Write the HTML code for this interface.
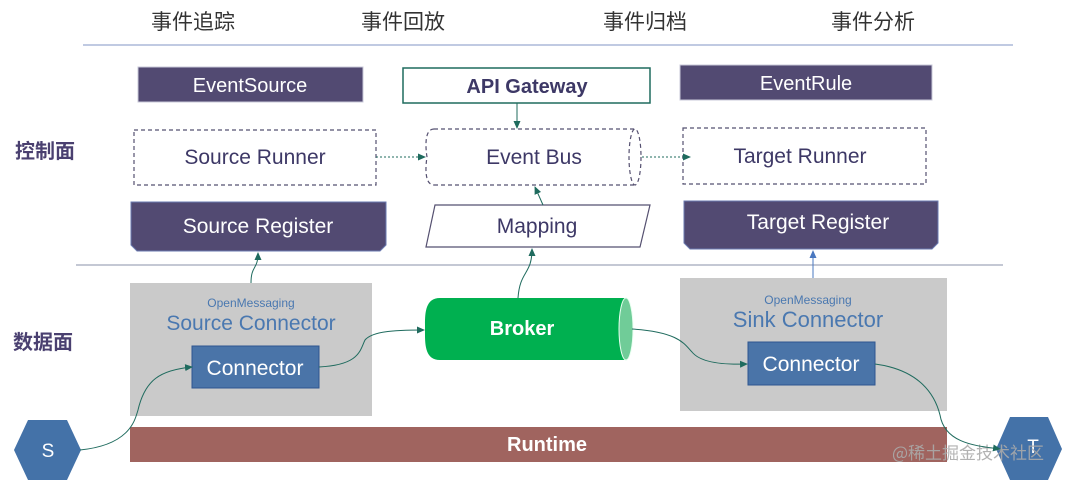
<!DOCTYPE html>
<html><head><meta charset="utf-8"><style>
html,body{margin:0;padding:0;background:#fff;}
svg{display:block;font-family:"Liberation Sans","Noto Sans CJK SC",sans-serif;}
</style></head><body>
<svg width="1080" height="480" viewBox="0 0 1080 480" xmlns="http://www.w3.org/2000/svg">
<defs>
<marker id="a" markerWidth="8" markerHeight="8" refX="7" refY="4" orient="auto" markerUnits="userSpaceOnUse"><path d="M0,0.5 L8,4 L0,7.5z" fill="#1f6b5e"/></marker>
<marker id="b" markerWidth="8" markerHeight="8" refX="7" refY="4" orient="auto" markerUnits="userSpaceOnUse"><path d="M0,0.5 L8,4 L0,7.5z" fill="#4a78c0"/></marker>
</defs>
<g font-size="21" fill="#333" text-anchor="middle" font-family="'Noto Sans CJK SC',sans-serif">
<text x="193" y="29">事件追踪</text><text x="403" y="29">事件回放</text><text x="645" y="29">事件归档</text><text x="873" y="29">事件分析</text>
</g>
<line x1="83" y1="45" x2="1013" y2="45" stroke="#9aaad0" stroke-width="1.2"/>
<line x1="76" y1="265" x2="1003" y2="265" stroke="#8a90a8" stroke-width="1"/>
<g font-size="20" font-weight="bold" fill="#4a4070" font-family="'Noto Sans CJK SC',sans-serif">
<text x="15" y="158">控制面</text><text x="13" y="349">数据面</text>
</g>
<rect x="138" y="67" width="225" height="35" fill="#524a72" stroke="#c8c8d8"/>
<text x="250" y="92" font-size="20" fill="#fff" text-anchor="middle">EventSource</text>
<rect x="403" y="68" width="247" height="35" fill="#fff" stroke="#1f6b5e" stroke-width="1.5"/>
<text x="527" y="93" font-size="20" font-weight="bold" fill="#3d3866" text-anchor="middle">API Gateway</text>
<rect x="680" y="65" width="252" height="35" fill="#524a72" stroke="#c8c8d8"/>
<text x="806" y="90" font-size="20" fill="#fff" text-anchor="middle">EventRule</text>
<rect x="134" y="130" width="242" height="55" fill="none" stroke="#555070" stroke-width="1.2" stroke-dasharray="4,3"/>
<text x="255" y="164" font-size="21" fill="#3d3866" text-anchor="middle">Source Runner</text>
<path d="M434,129 H635 M434,185 H635 M434,129 C422,129 427,157 427,157 C427,157 422,185 434,185" fill="none" stroke="#555070" stroke-width="1.2" stroke-dasharray="4,3"/>
<ellipse cx="635" cy="157" rx="6" ry="28" fill="none" stroke="#555070" stroke-width="1.2" stroke-dasharray="4,3"/>
<text x="534" y="164" font-size="21" fill="#3d3866" text-anchor="middle">Event Bus</text>
<rect x="683" y="128" width="243" height="56" fill="none" stroke="#555070" stroke-width="1.2" stroke-dasharray="4,3"/>
<text x="800" y="163" font-size="21" fill="#3d3866" text-anchor="middle">Target Runner</text>
<path d="M131,202 H386 V245 L380,251 H137 L131,245 Z" fill="#524a72" stroke="#6a7ab0"/>
<text x="258" y="233" font-size="21" fill="#fff" text-anchor="middle">Source Register</text>
<path d="M435,205 H650 L640,247 H426 Z" fill="#fff" stroke="#555070" stroke-width="1.2"/>
<text x="537" y="233" font-size="21" fill="#3d3866" text-anchor="middle">Mapping</text>
<path d="M684,201 H938 V243 L932,249 H690 L684,243 Z" fill="#524a72" stroke="#6a7ab0"/>
<text x="818" y="229" font-size="21" fill="#fff" text-anchor="middle">Target Register</text>
<rect x="130" y="283" width="242" height="133" fill="#cacaca"/>
<text x="251" y="307" font-size="12" fill="#4a78b0" text-anchor="middle">OpenMessaging</text>
<text x="251" y="330" font-size="21" fill="#4a78b0" text-anchor="middle">Source Connector</text>
<rect x="192" y="346" width="127" height="42" fill="#4a74a8" stroke="#2f5590"/>
<text x="255" y="375" font-size="21" fill="#fff" text-anchor="middle">Connector</text>
<rect x="680" y="278" width="267" height="133" fill="#cacaca"/>
<text x="808" y="304" font-size="12" fill="#4a78b0" text-anchor="middle">OpenMessaging</text>
<text x="808" y="327" font-size="22" fill="#4a78b0" text-anchor="middle">Sink  Connector</text>
<rect x="748" y="342" width="127" height="43" fill="#4a74a8" stroke="#2f5590"/>
<text x="811" y="371" font-size="21" fill="#fff" text-anchor="middle">Connector</text>
<path d="M440,298 H626 V360 H440 C424,360 425,342 425,329 C425,316 424,298 440,298 Z" fill="#00b050"/>
<ellipse cx="626" cy="329" rx="7" ry="31" fill="#70cc98" stroke="#e8fff0" stroke-width="1"/>
<text x="522" y="335" font-size="20" font-weight="bold" fill="#fff" text-anchor="middle">Broker</text>
<rect x="130" y="427" width="817" height="35" fill="#a0645f"/>
<text x="547" y="451" font-size="20" font-weight="bold" fill="#fff" text-anchor="middle">Runtime</text>
<polygon points="28,420 67,420 81,450 67,480 28,480 14,450" fill="#4472a8"/>
<text x="48" y="457" font-size="19" fill="#fff" text-anchor="middle">S</text>
<polygon points="1010,417 1048,417 1062,449 1048,480 1010,480 996,449" fill="#4472a8"/>
<text x="1033" y="453" font-size="19" fill="#fff" text-anchor="middle">T</text>
<text x="968" y="459" font-size="17" fill="#aaa" fill-opacity="0.9" text-anchor="middle" font-family="'Noto Sans CJK SC',sans-serif">@稀土掘金技术社区</text>
<g fill="none" stroke="#1f6b5e" stroke-width="1">
<path d="M376,157 H425" stroke-dasharray="2,2" marker-end="url(#a)"/>
<path d="M642,157 H690" stroke-dasharray="2,2" marker-end="url(#a)"/>
<path d="M517,103 V128" marker-end="url(#a)"/>
<path d="M543,205 L535,187" marker-end="url(#a)"/>
<path d="M518,298 C520,270 532,275 532,249" marker-end="url(#a)"/>
<path d="M251,283 C251,265 258,270 258,253" marker-end="url(#a)"/>
<path d="M80,450 C130,445 135,420 138,410 C145,380 160,370 192,367" marker-end="url(#a)"/>
<path d="M319,367 C360,365 360,350 365,340 C372,332 390,330 424,330" marker-end="url(#a)"/>
<path d="M632,329 C680,332 685,345 692,352 C700,362 720,365 747,364" marker-end="url(#a)"/>
<path d="M875,364 C920,370 935,395 940,415 C945,445 980,446 1000,449" marker-end="url(#a)"/>
</g>
<path d="M813,278 V251" stroke="#4a78c0" stroke-width="1" fill="none" marker-end="url(#b)"/>
</svg>
</body></html>
